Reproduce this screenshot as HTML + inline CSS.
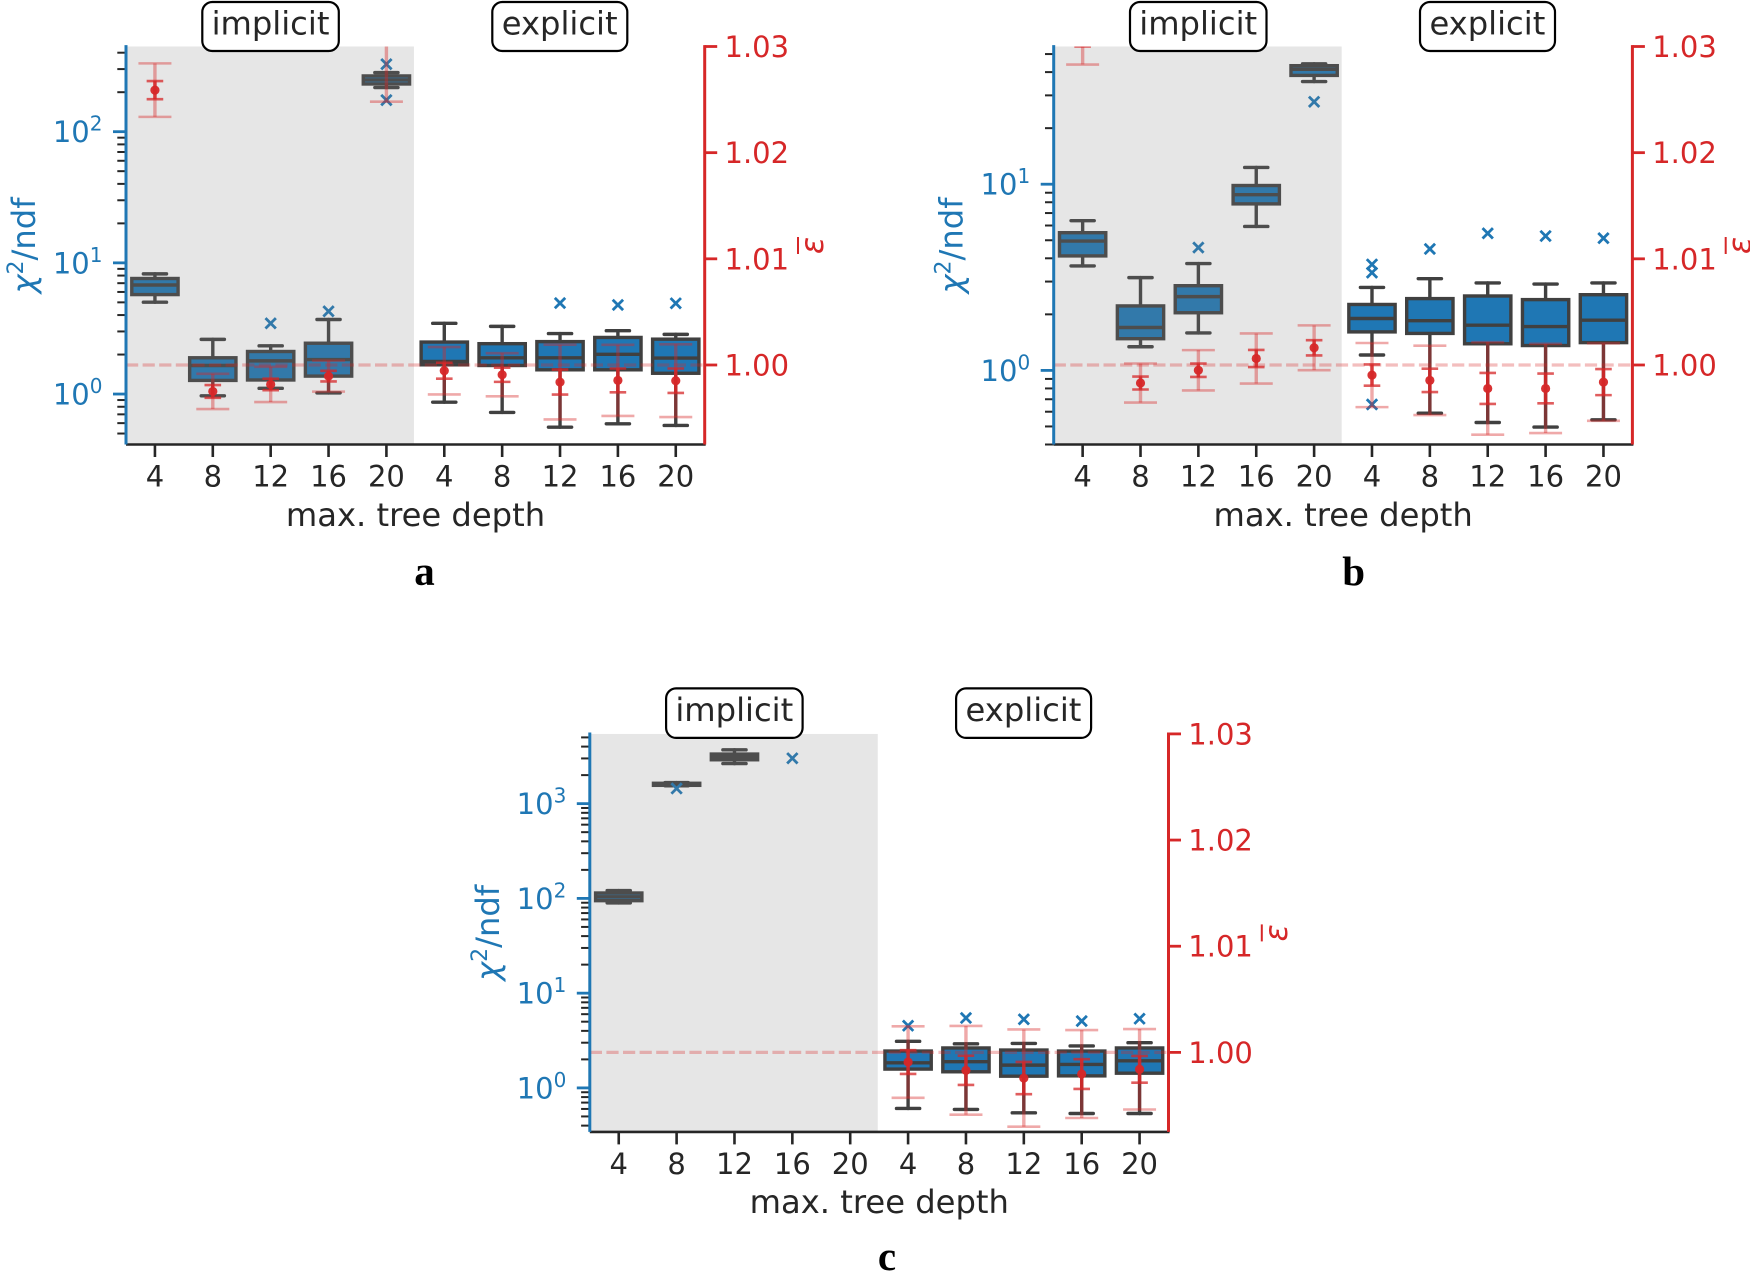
<!DOCTYPE html>
<html lang="en">
<head>
<meta charset="utf-8">
<title>Chi-squared per ndf and mean epsilon vs max tree depth</title>
<style>
html,body{margin:0;padding:0;background:#fff;width:1750px;height:1272px;overflow:hidden}
svg{display:block;filter:blur(0.35px)}
text{font-family:"DejaVu Sans","Liberation Sans",sans-serif}
.title{font-size:32.2px;fill:#262626}
.letter{font-family:"Liberation Serif",serif;font-weight:bold;font-size:41px;fill:#000}
</style>
</head>
<body>
<svg id="figure" xmlns="http://www.w3.org/2000/svg" width="1750" height="1272" viewBox="0 0 1750 1272">
<defs>
<clipPath id="plot-clip"><rect x="126" y="46.5" width="578.7" height="398"/></clipPath>
</defs>

<g id="panel-a" transform="translate(0,0)">
  <g class="marks" clip-path="url(#plot-clip)"></g>
  <g class="axes"></g>
  <text class="title" x="415.5" y="526" text-anchor="middle">max. tree depth</text>
  <text transform="translate(35,245.5) rotate(-90)" text-anchor="middle" font-size="32.2" fill="#1f77b4"><tspan font-style="italic">χ</tspan><tspan dy="-12" font-size="22">2</tspan><tspan dy="12">/ndf</tspan></text>
  <text transform="translate(823,245.5) rotate(-90)" text-anchor="middle" font-size="32" font-style="italic" fill="#d62728">ε</text>
  <line x1="798" x2="798" y1="237" y2="254" stroke="#d62728" stroke-width="2"/>
  <rect x="202.3" y="2" width="136.5" height="49" rx="10" fill="#fff" stroke="#000" stroke-width="2.2"/>
  <text class="title" x="270.5" y="34.5" text-anchor="middle">implicit</text>
  <rect x="492.3" y="2" width="135" height="49" rx="10" fill="#fff" stroke="#000" stroke-width="2.2"/>
  <text class="title" x="559.7" y="34.5" text-anchor="middle">explicit</text>
</g>

<g id="panel-b" transform="translate(927.7,0)">
  <g class="marks" clip-path="url(#plot-clip)"></g>
  <g class="axes"></g>
  <text class="title" x="415.5" y="526" text-anchor="middle">max. tree depth</text>
  <text transform="translate(35,245.5) rotate(-90)" text-anchor="middle" font-size="32.2" fill="#1f77b4"><tspan font-style="italic">χ</tspan><tspan dy="-12" font-size="22">2</tspan><tspan dy="12">/ndf</tspan></text>
  <text transform="translate(823,245.5) rotate(-90)" text-anchor="middle" font-size="32" font-style="italic" fill="#d62728">ε</text>
  <line x1="798" x2="798" y1="237" y2="254" stroke="#d62728" stroke-width="2"/>
  <rect x="202.3" y="2" width="136.5" height="49" rx="10" fill="#fff" stroke="#000" stroke-width="2.2"/>
  <text class="title" x="270.5" y="34.5" text-anchor="middle">implicit</text>
  <rect x="492.3" y="2" width="135" height="49" rx="10" fill="#fff" stroke="#000" stroke-width="2.2"/>
  <text class="title" x="559.7" y="34.5" text-anchor="middle">explicit</text>
</g>

<g id="panel-c" transform="translate(463.8,687.4)">
  <g class="marks" clip-path="url(#plot-clip)"></g>
  <g class="axes"></g>
  <text class="title" x="415.5" y="525.5" text-anchor="middle">max. tree depth</text>
  <text transform="translate(35,245.5) rotate(-90)" text-anchor="middle" font-size="32.2" fill="#1f77b4"><tspan font-style="italic">χ</tspan><tspan dy="-12" font-size="22">2</tspan><tspan dy="12">/ndf</tspan></text>
  <text transform="translate(823,245.5) rotate(-90)" text-anchor="middle" font-size="32" font-style="italic" fill="#d62728">ε</text>
  <line x1="798" x2="798" y1="237" y2="254" stroke="#d62728" stroke-width="2"/>
  <rect x="202.3" y="1" width="136.5" height="49.5" rx="10" fill="#fff" stroke="#000" stroke-width="2.2"/>
  <text class="title" x="270.5" y="33.5" text-anchor="middle">implicit</text>
  <rect x="492.3" y="1" width="135" height="49.5" rx="10" fill="#fff" stroke="#000" stroke-width="2.2"/>
  <text class="title" x="559.7" y="33.5" text-anchor="middle">explicit</text>
</g>

<text class="letter" x="424.5" y="585" text-anchor="middle">a</text>
<text class="letter" x="1353.7" y="585" text-anchor="middle">b</text>
<text class="letter" x="887" y="1270" text-anchor="middle">c</text>
</svg>

<script>
const depths = [4, 8, 12, 16, 20, 4, 8, 12, 16, 20];
const epsTickLabels = ['1.00', '1.01', '1.02', '1.03'];

const aExponents = [0, 1, 2];
const aChiLimits = [0.4124, 446];
const aCapHigh = [8.24, 2.61, 2.33, 3.70, 282, 3.46, 3.28, 2.89, 3.04, 2.85];
const aQ3 = [7.6, 1.89, 2.11, 2.44, 266, 2.49, 2.42, 2.51, 2.70, 2.62];
const aMedian = [6.78, 1.65, 1.79, 1.83, 248, 1.77, 1.89, 1.89, 2.01, 1.88];
const aQ1 = [5.73, 1.27, 1.28, 1.37, 231, 1.67, 1.65, 1.53, 1.53, 1.44];
const aCapLow = [5.01, 0.97, 1.105, 1.02, 217, 0.867, 0.724, 0.559, 0.593, 0.576];
const aOutliers = [[], [], [3.46], [4.27], [327, 174], [], [], [4.94], [4.78], [4.92]];
const aEpsMean = [1.02589, 0.99751, 0.99817, 0.99895, 1.033, 0.99946, 0.99908, 0.99839, 0.99855, 0.99852];
const aEpsInner = [0.00085, 0.0006, 0.00054, 0.0005, 0.0025, 0.00075, 0.00067, 0.00118, 0.00112, 0.00115];
const aEpsOuter = [0.00252, 0.00166, 0.00166, 0.00146, 0.0082, 0.00223, 0.00203, 0.00352, 0.00335, 0.00343];

const bExponents = [0, 1];
const bChiLimits = [0.40, 54.9];
const bCapHigh = [6.37, 3.15, 3.75, 12.3, 44.3, 2.79, 3.11, 2.95, 2.91, 2.95];
const bQ3 = [5.49, 2.22, 2.85, 9.84, 43.3, 2.26, 2.43, 2.51, 2.40, 2.55];
const bMedian = [4.95, 1.70, 2.49, 8.78, 41.4, 1.90, 1.85, 1.75, 1.72, 1.86];
const bQ1 = [4.12, 1.48, 2.04, 7.84, 38.4, 1.61, 1.58, 1.39, 1.36, 1.41];
const bCapLow = [3.64, 1.34, 1.59, 5.93, 35.6, 1.21, 0.589, 0.525, 0.496, 0.543];
const bOutliers = [[], [], [4.57], [], [27.7], [3.71, 3.35, 0.656], [4.49], [5.45], [5.27], [5.13]];
const bEpsMean = [1.03086, 0.9983, 0.9995, 1.00061, 1.00162, 0.99905, 0.99855, 0.99779, 0.99779, 0.99839];
const bEpsInner = [0.00085, 0.00061, 0.00063, 0.00081, 0.00072, 0.001, 0.0011, 0.00146, 0.0014, 0.00123];
const bEpsOuter = [0.00256, 0.00184, 0.0019, 0.00236, 0.00211, 0.00302, 0.00327, 0.00436, 0.0042, 0.00365];

const cExponents = [0, 1, 2, 3];
const cChiLimits = [0.3434, 5445];
const cCapHigh = [121, 1670, 3697, null, null, 3.10, 2.92, 2.95, 2.77, 3.0];
const cQ3 = [114, 1640, 3336, null, null, 2.45, 2.64, 2.51, 2.45, 2.64];
const cMedian = [104, 1596, 3123, null, null, 1.84, 1.89, 1.74, 1.77, 1.93];
const cQ1 = [94.6, 1560, 2904, null, null, 1.58, 1.48, 1.33, 1.34, 1.43];
const cCapLow = [89.6, 1545, 2648, null, null, 0.607, 0.593, 0.546, 0.537, 0.537];
const cOutliers = [[], [1445], [], [3013], [], [4.53], [5.47], [5.30], [5.08], [5.37]];
const cEpsMean = [null, null, null, null, null, 0.99909, 0.99831, 0.99758, 0.99796, 0.99841];
const cEpsInner = [null, null, null, null, null, 0.00112, 0.00138, 0.00152, 0.0014, 0.00126];
const cEpsOuter = [null, null, null, null, null, 0.00337, 0.00418, 0.00458, 0.00414, 0.00379];

const SVGNS = 'http://www.w3.org/2000/svg';
const LEFT = 126, RIGHT = 704.7, TOP = 46.5, BOTTOM = 444.5;
const EPS_MIN = 0.99251, EPS_MAX = 1.03;
const BLUE = '#1f77b4', RED = '#d62728', DARK = '#404040', INK = '#262626';

function make(tag, attrs, parent, text) {
  const node = document.createElementNS(SVGNS, tag);
  for (const k in attrs) node.setAttribute(k, attrs[k]);
  if (text !== undefined) node.textContent = text;
  parent.appendChild(node);
  return node;
}
function xScale(i) { return LEFT + (RIGHT - LEFT) / 10 * (i + 0.5); }
function epsScale(v) { return BOTTOM - (v - EPS_MIN) / (EPS_MAX - EPS_MIN) * (BOTTOM - TOP); }
function chiScaleFor(limits) {
  const lo = Math.log10(limits[0]), hi = Math.log10(limits[1]);
  return function (v) { return BOTTOM - (Math.log10(v) - lo) / (hi - lo) * (BOTTOM - TOP); };
}

function drawBox(g, i, y, capHigh, q3, med, q1, capLow) {
  const x = xScale(i), boxW = 46.3, capHalf = 11.6;
  const stroke = { stroke: DARK, 'stroke-width': 3.4, 'stroke-linecap': 'round' };
  const whiskerUp = make('line', Object.assign({ x1: x, x2: x, y1: y(q3), y2: y(capHigh) }, stroke), g);
  
  
  const whiskerDown = make('line', Object.assign({ x1: x, x2: x, y1: y(q1), y2: y(capLow) }, stroke), g);
  
  
  const capUp = make('line', Object.assign({ x1: x - capHalf, x2: x + capHalf, y1: y(capHigh), y2: y(capHigh) }, stroke), g);
  
  
  const capDown = make('line', Object.assign({ x1: x - capHalf, x2: x + capHalf, y1: y(capLow), y2: y(capLow) }, stroke), g);
  
  
  const rect = make('rect', { x: x - boxW / 2, y: y(q3), width: boxW, height: y(q1) - y(q3), fill: BLUE, stroke: DARK, 'stroke-width': 3.4 }, g);
  
  
  const medLine = make('line', { x1: x - boxW / 2, x2: x + boxW / 2, y1: y(med), y2: y(med), stroke: DARK, 'stroke-width': 3.4 }, g);
  
  
}

function drawOutlier(g, i, yPix) {
  const x = xScale(i), s = 5.2;
  const d = 'M' + (x - s) + ' ' + (yPix - s) + 'L' + (x + s) + ' ' + (yPix + s) + 'M' + (x - s) + ' ' + (yPix + s) + 'L' + (x + s) + ' ' + (yPix - s);
  const mark = make('path', { d: d, fill: 'none', stroke: BLUE, 'stroke-width': 2.8 }, g);
  
  
}

function drawError(g, i, mean, inner, outer) {
  const x = xScale(i);
  const outerLine = make('line', { x1: x, x2: x, y1: epsScale(mean + outer), y2: epsScale(mean - outer), stroke: RED, 'stroke-opacity': 0.4, 'stroke-width': 3.4 }, g);
  
  
  [mean + outer, mean - outer].forEach(function (v) {
    const cap = make('line', { x1: x - 16.5, x2: x + 16.5, y1: epsScale(v), y2: epsScale(v), stroke: RED, 'stroke-opacity': 0.4, 'stroke-width': 2.6 }, g);
    
    
  });
  const innerLine = make('line', { x1: x, x2: x, y1: epsScale(mean + inner), y2: epsScale(mean - inner), stroke: RED, 'stroke-opacity': 0.85, 'stroke-width': 3.4 }, g);
  
  
  [mean + inner, mean - inner].forEach(function (v) {
    const cap = make('line', { x1: x - 8.3, x2: x + 8.3, y1: epsScale(v), y2: epsScale(v), stroke: RED, 'stroke-opacity': 0.75, 'stroke-width': 2.6 }, g);
    
    
  });
  const dot = make('circle', { cx: x, cy: epsScale(mean), r: 4.6, fill: RED, 'fill-opacity': 0.95 }, g);
  
  
}

function drawAxes(g, y, limits, exponents) {
  depths.forEach(function (d, i) {
    const tick = make('line', { x1: xScale(i), x2: xScale(i), y1: BOTTOM, y2: BOTTOM + 12.5, stroke: INK, 'stroke-width': 2.6 }, g);
    
    
    const label = make('text', { x: xScale(i), y: 486.5, 'text-anchor': 'middle', 'font-size': 29, fill: INK }, g, String(d));
    
    
  });

  const loExp = Math.floor(Math.log10(limits[0]));
  const hiExp = Math.ceil(Math.log10(limits[1]));
  for (let k = loExp; k <= hiExp; k++) {
    for (let m = 2; m <= 9; m++) {
      const v = m * Math.pow(10, k);
      if (v < limits[0] * 0.995 || v > limits[1]) continue;
      const minor = make('line', { x1: LEFT - 8.7, x2: LEFT, y1: y(v), y2: y(v), stroke: INK, 'stroke-width': 2 }, g);
      
      
    }
  }
  exponents.forEach(function (e) {
    const v = Math.pow(10, e);
    const major = make('line', { x1: LEFT - 13, x2: LEFT, y1: y(v), y2: y(v), stroke: BLUE, 'stroke-width': 2.8 }, g);
    
    
    const label = make('text', { x: 102.5, y: y(v) + 10.5, 'text-anchor': 'end', 'font-size': 29, fill: BLUE }, g, '10');
    
    
    make('tspan', { dy: -11.5, 'font-size': 20 }, label, String(e));
  });

  epsTickLabels.forEach(function (t) {
    const v = parseFloat(t);
    const tick = make('line', { x1: RIGHT, x2: RIGHT + 12.5, y1: epsScale(v), y2: epsScale(v), stroke: RED, 'stroke-width': 2.8 }, g);
    
    
    const label = make('text', { x: 724.5, y: epsScale(v) + 10.5, 'font-size': 29, fill: RED }, g, t);
    
    
  });

  const bottomSpine = make('line', { x1: LEFT, x2: RIGHT + 1, y1: BOTTOM, y2: BOTTOM, stroke: INK, 'stroke-width': 2.6 }, g);
  
  
  const leftSpine = make('line', { x1: LEFT, x2: LEFT, y1: TOP - 1.4, y2: BOTTOM, stroke: BLUE, 'stroke-width': 3 }, g);
  
  
  const rightSpine = make('line', { x1: RIGHT, x2: RIGHT, y1: TOP - 1.4, y2: BOTTOM, stroke: RED, 'stroke-width': 3 }, g);
  
  
}

function drawPanel(id, limits, exponents, capHigh, q3, med, q1, capLow, outliers, epsMean, epsInner, epsOuter) {
  const panel = document.getElementById(id);
  const marks = panel.querySelector('.marks');
  const axes = panel.querySelector('.axes');
  const y = chiScaleFor(limits);

  depths.forEach(function (d, i) {
    if (med[i] !== null) drawBox(marks, i, y, capHigh[i], q3[i], med[i], q1[i], capLow[i]);
    outliers[i].forEach(function (v) { drawOutlier(marks, i, y(v)); });
  });

  const shade = make('rect', { x: LEFT, y: TOP, width: (RIGHT - LEFT) / 2 - 1.4, height: BOTTOM - TOP, fill: '#808080', 'fill-opacity': 0.2 }, marks);
  
  

  const ref = make('line', { x1: LEFT, x2: RIGHT, y1: epsScale(1), y2: epsScale(1), stroke: RED, 'stroke-opacity': 0.3, 'stroke-width': 3.2, 'stroke-dasharray': '12.2 4.4' }, marks);
  
  

  depths.forEach(function (d, i) {
    if (epsMean[i] !== null) drawError(marks, i, epsMean[i], epsInner[i], epsOuter[i]);
  });

  drawAxes(axes, y, limits, exponents);
}

drawPanel('panel-a', aChiLimits, aExponents, aCapHigh, aQ3, aMedian, aQ1, aCapLow, aOutliers, aEpsMean, aEpsInner, aEpsOuter);
drawPanel('panel-b', bChiLimits, bExponents, bCapHigh, bQ3, bMedian, bQ1, bCapLow, bOutliers, bEpsMean, bEpsInner, bEpsOuter);
drawPanel('panel-c', cChiLimits, cExponents, cCapHigh, cQ3, cMedian, cQ1, cCapLow, cOutliers, cEpsMean, cEpsInner, cEpsOuter);
</script>
</body>
</html>
